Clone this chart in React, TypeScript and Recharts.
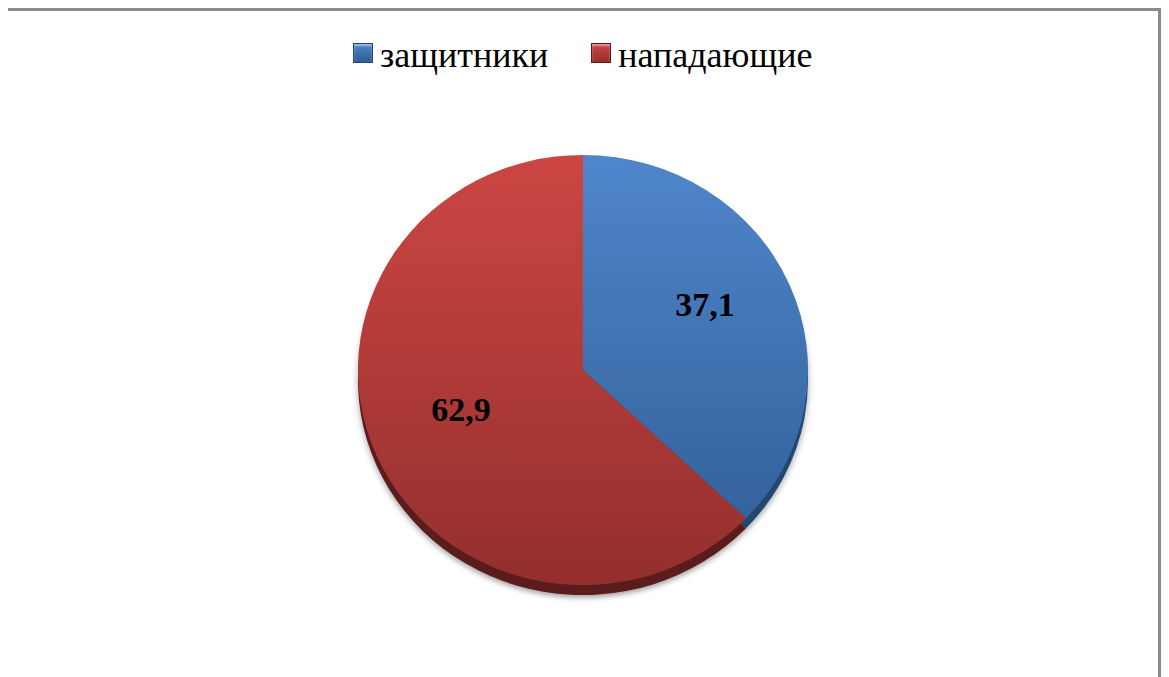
import React from 'react';
import { PieChart, Pie, Cell, Legend } from 'recharts';

const categories = ['защитники', 'нападающие'];
const values = [37.1, 62.9];
const topColors = ['#4f86cb', '#cc4643'];
const bottomColors = ['#2f5c94', '#932f2d'];
const sideColors = ['#24466f', '#5a1b1a'];

const data = categories.map((name, i) => ({ name, value: values[i] }));

const W = 1150;
const H = 680;
const CX = 575;
const CY = 359;
const R = 225;
const SCALE_Y = 0.956;

const FONT = '"Liberation Serif", "DejaVu Serif", Tinos, "Noto Serif", FreeSerif, "Times New Roman", serif';

const renderLabel = (props: any) => {
  const { cx, cy, midAngle, outerRadius, value } = props;
  const rad = (Math.PI / 180) * midAngle;
  const k = 0.59;
  const x = cx + Math.cos(rad) * outerRadius * k;
  const y = cy - Math.sin(rad) * outerRadius * k - 13;
  return (
    <text
      x={x}
      y={y}
      textAnchor="middle"
      dominantBaseline="central"
      fontFamily={FONT}
      fontWeight="bold"
      fontSize={34}
      fill="#000"
    >
      {String(value).replace('.', ',')}
    </text>
  );
};

const renderLegend = () => (
  <div style={{ display: 'flex', alignItems: 'center', fontFamily: FONT, fontSize: 36, color: '#000', height: 40, whiteSpace: 'nowrap' }}>
    {categories.map((c, i) => (
      <div key={c} style={{ display: 'flex', alignItems: 'center', marginRight: i === 0 ? 43 : 0 }}>
        <div
          style={{
            width: 18,
            height: 18,
            background: `linear-gradient(180deg, ${topColors[i]}, ${bottomColors[i]})`,
            border: `1px solid ${sideColors[i]}`,
            boxShadow: 'inset 0 2px 2px rgba(255,255,255,0.45)',
            marginRight: 7,
          }}
        />
        <span style={{ lineHeight: '40px', position: 'relative', top: 2, fontFamily: FONT }}>{c}</span>
      </div>
    ))}
  </div>
);

export default function App() {
  return (
    <div
      style={{
        marginLeft: -3,
        width: W,
        height: 666,
        overflow: 'hidden',
        borderTop: '3px solid #8a8a8a',
        borderLeft: '3px solid #8a8a8a',
        borderRight: '3px solid #8a8a8a',
        background: '#fff',
      }}
    >
      <style>{`
        .pie-scaled { transform-box: view-box; transform-origin: ${CX}px ${CY}px; transform: scaleY(${SCALE_Y}); }
        .pie-scaled .pie-scaled { transform: none; }
        .pie-side { transform-box: view-box; transform-origin: ${CX}px ${CY}px; transform: translateY(10px) scaleY(${SCALE_Y}); }
        .pie-side .pie-side { transform: none; }
      `}</style>
      <PieChart width={W} height={H} margin={{ top: 0, right: 0, bottom: 0, left: 0 }}>
        <defs>
          {categories.map((c, i) => (
            <linearGradient key={c} id={`face${i}`} x1="0" y1={CY - R} x2="0" y2={CY + R} gradientUnits="userSpaceOnUse">
              <stop offset="0%" stopColor={topColors[i]} />
              <stop offset="100%" stopColor={bottomColors[i]} />
            </linearGradient>
          ))}
          <filter id="pieShadow" x="-20%" y="-20%" width="140%" height="140%">
            <feDropShadow dx="0" dy="3" stdDeviation="3" floodColor="#000" floodOpacity="0.35" />
          </filter>
        </defs>
        <Legend verticalAlign="bottom" content={renderLegend} wrapperStyle={{ top: 22, bottom: 'auto', left: 345, width: 'auto' }} />
        <Pie
          className="pie-side"
          data={data}
          dataKey="value"
          nameKey="name"
          cx={CX}
          cy={CY}
          outerRadius={R}
          startAngle={90}
          endAngle={-270}
          stroke="none"
          isAnimationActive={false}
          legendType="none"
          style={{ filter: 'url(#pieShadow)' }}
        >
          {data.map((d, i) => (
            <Cell key={d.name} fill={sideColors[i]} />
          ))}
        </Pie>
        <Pie
          className="pie-scaled"
          data={data}
          dataKey="value"
          nameKey="name"
          cx={CX}
          cy={CY}
          outerRadius={R}
          startAngle={90}
          endAngle={-270}
          stroke="none"
          isAnimationActive={false}
          labelLine={false}
          label={renderLabel}
        >
          {data.map((d, i) => (
            <Cell key={d.name} fill={`url(#face${i})`} />
          ))}
        </Pie>
      </PieChart>
    </div>
  );
}
